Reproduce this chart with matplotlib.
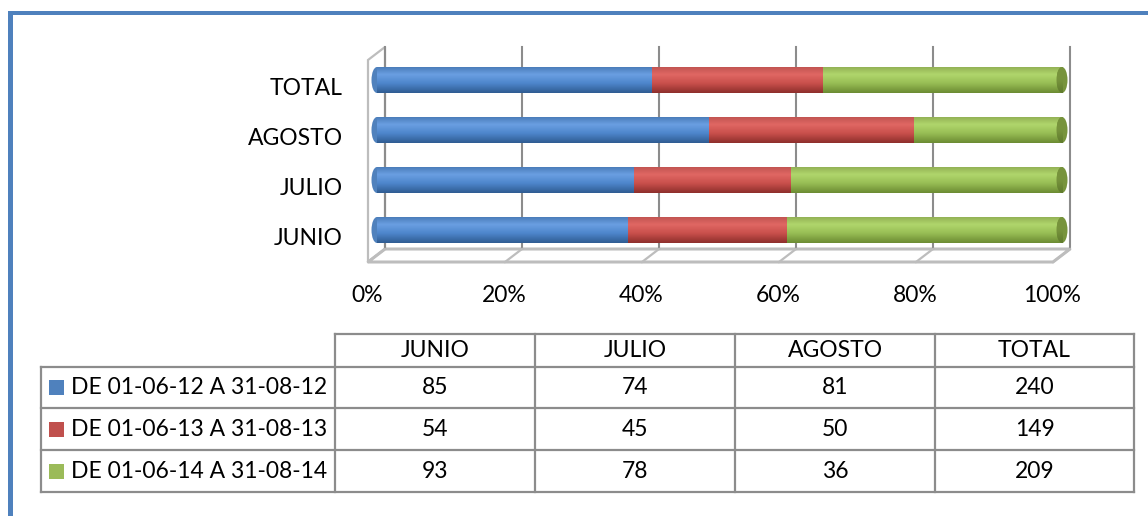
"""Barras horizontales apiladas al 100% (estilo cilindro 3D) con tabla de datos."""
import matplotlib.pyplot as plt
import numpy as np
from matplotlib.patches import Ellipse, Polygon, Rectangle
from matplotlib.colors import LinearSegmentedColormap
from matplotlib.transforms import ScaledTranslation

plt.rcParams['font.family'] = ['Lato', 'DejaVu Sans']

W, H = 1148, 516

meses = ["JUNIO", "JULIO", "AGOSTO", "TOTAL"]
periodos = ["DE 01-06-12 A 31-08-12", "DE 01-06-13 A 31-08-13", "DE 01-06-14 A 31-08-14"]
v2012 = [85, 74, 81, 240]
v2013 = [54, 45, 50, 149]
v2014 = [93, 78, 36, 209]
pct_ticks = [0, 0.2, 0.4, 0.6, 0.8, 1.0]
pct_labels = ["0%", "20%", "40%", "60%", "80%", "100%"]

colores = ["#4F81BD", "#C0504D", "#9BBB59"]
# sombreado del cilindro, de abajo hacia arriba: borde inferior, cuerpo, brillo, borde superior
sombras = [
    ["#2F5C92", "#4E86CC", "#6A9FE2", "#4B7DBA"],
    ["#8E2F2C", "#C9504C", "#E06763", "#C25552"],
    ["#6C8C33", "#98BE55", "#B0D66C", "#93B255"],
]
tapa_dcha = ["#77933C", "#5F7A2C"]

FS = 16.5
GRIS = "#8C8C8C"
GRIS_CLARO = "#BDBDBD"

fig = plt.figure(figsize=(W / 100, H / 100), dpi=100)

# capa de fondo en pixeles: marco, paredes 3D y tabla
bg = fig.add_axes([0, 0, 1, 1])
bg.set_xlim(0, W)
bg.set_ylim(H, 0)
bg.axis('off')

ax = fig.add_axes([377 / W, (H - 255) / H, 685 / W, 200 / H])
ax.patch.set_alpha(0)
for s in ax.spines.values():
    s.set_visible(False)

series = [np.array(v2012, float), np.array(v2013, float), np.array(v2014, float)]
totales = series[0] + series[1] + series[2]
ypos = np.arange(len(meses))
alto = 0.52
e = 11 / 685  # ancho de la elipse de los extremos, en unidades de datos

grad = np.linspace(0, 1, 64).reshape(-1, 1)


def sombrear(patch, x0, x1, y0, y1, cmap, z):
    im = ax.imshow(grad, extent=(x0, x1, y0, y1), origin='lower', aspect='auto',
                   cmap=cmap, zorder=z, interpolation='bilinear')
    im.set_clip_path(patch)
    im.set_clip_box(None)


izq = np.zeros(len(meses))
for i, vals in enumerate(series):
    cuota = vals / totales
    cm = LinearSegmentedColormap.from_list("c%d" % i, list(zip([0, 0.38, 0.72, 1.0], sombras[i])))
    barras = ax.barh(ypos, cuota, left=izq, height=alto, color=colores[i], zorder=3)
    for r in barras:
        sombrear(r, r.get_x(), r.get_x() + r.get_width(), r.get_y(), r.get_y() + r.get_height(), cm, 3.1)
    if i == 0:
        # extremo izquierdo redondeado
        for y in ypos:
            el = Ellipse((0, y), e, alto, color=colores[0], zorder=2.9, lw=0, clip_on=False)
            ax.add_patch(el)
            sombrear(el, -e / 2, e / 2, y - alto / 2, y + alto / 2, cm, 2.95)
    izq = izq + cuota

# tapa visible del extremo derecho
cm_tapa = LinearSegmentedColormap.from_list("tapa", [tapa_dcha[1], tapa_dcha[0], tapa_dcha[0]])
for y, x in zip(ypos, izq):
    el = Ellipse((x, y), e, alto, color=tapa_dcha[0], zorder=3.5, lw=0, clip_on=False)
    ax.add_patch(el)
    sombrear(el, x - e / 2, x + e / 2, y - alto / 2, y + alto / 2, cm_tapa, 3.6)

ax.set_xlim(0, 1)
ax.set_ylim(-0.5, len(meses) - 0.5)
ax.set_yticks(ypos, meses, fontsize=FS)
ax.set_xticks(pct_ticks, pct_labels, fontsize=FS)
ax.tick_params(axis='y', length=0, pad=24.5)
ax.tick_params(axis='x', length=0, pad=21.5)
for lab in ax.get_xticklabels():
    lab.set_transform(lab.get_transform() + ScaledTranslation(-0.095, 0, fig.dpi_scale_trans))
# las etiquetas de categoria van alineadas con el frente del suelo
for lab in ax.get_yticklabels():
    lab.set_transform(lab.get_transform() + ScaledTranslation(0, -0.065, fig.dpi_scale_trans))

# paredes: rejilla al fondo y suelo en perspectiva
fondo_sup, fondo_inf, frente_inf = 47, 249, 262
dx = 8  # desplazamiento del fondo respecto a las barras
prof = 17
gx = [ax.transData.transform((t, 0))[0] + dx for t in pct_ticks]

bg.add_patch(Polygon([(gx[0], fondo_sup), (gx[0], fondo_inf), (gx[0] - prof, frente_inf),
                      (gx[0] - prof, fondo_sup + 13)], closed=True, fc="white",
                     ec=GRIS_CLARO, lw=1.6, zorder=1))
bg.add_patch(Polygon([(gx[0], fondo_inf), (gx[-1], fondo_inf), (gx[-1] - prof, frente_inf),
                      (gx[0] - prof, frente_inf)], closed=True, fc="white",
                     ec=GRIS_CLARO, lw=2.2, zorder=1))
for x in gx:
    bg.plot([x, x], [fondo_sup, fondo_inf], color=GRIS, lw=1.5, zorder=1.2)
    bg.plot([x, x - prof], [fondo_inf, frente_inf], color=GRIS_CLARO, lw=1.6, zorder=1.2)

# marco azul
bg.add_patch(Rectangle((8, 11), W, 4, color="#4F81BD", lw=0))
bg.add_patch(Rectangle((8, 11), 5, H, color="#4F81BD", lw=0))

# tabla de datos
filas_y = [334, 366.5, 408, 450, 492]
cols_x = [40.5, 335, 535, 735, 935, 1134]
tl = dict(color=GRIS, lw=1.6, zorder=2)
bg.plot([cols_x[1], cols_x[-1]], [filas_y[0]] * 2, **tl)
for y in filas_y[1:]:
    bg.plot([cols_x[0], cols_x[-1]], [y, y], **tl)
bg.plot([cols_x[0]] * 2, [filas_y[1], filas_y[-1]], **tl)
for x in cols_x[1:]:
    bg.plot([x, x], [filas_y[0], filas_y[-1]], **tl)

for j, mes in enumerate(meses):
    cx = (cols_x[j + 1] + cols_x[j + 2]) / 2
    bg.text(cx, (filas_y[0] + filas_y[1]) / 2, mes, ha='center', va='center', fontsize=FS)
for i, (nombre, vals) in enumerate(zip(periodos, [v2012, v2013, v2014])):
    cy = (filas_y[i + 1] + filas_y[i + 2]) / 2
    bg.add_patch(Rectangle((49, cy - 7.5), 15, 15, color=colores[i], lw=0))
    bg.text(71, cy, nombre, ha='left', va='center', fontsize=FS)
    for j, v in enumerate(vals):
        cx = (cols_x[j + 1] + cols_x[j + 2]) / 2
        bg.text(cx, cy, str(v), ha='center', va='center', fontsize=FS)

fig.savefig("out.png", dpi=100)
